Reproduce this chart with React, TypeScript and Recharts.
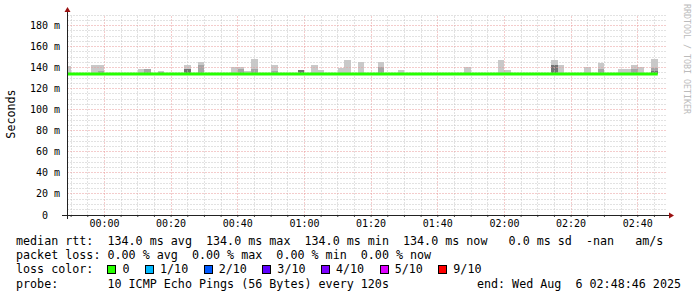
import { ComposedChart, Bar, Line, XAxis, YAxis, ReferenceLine } from "recharts";

const MONO = "'DejaVu Sans Mono', monospace";

// median rtt was flat the whole window
const MEDIAN_RTT = 134;
const END_MIN = 168.77; // 02:48:46, minutes after midnight
const SPAN_MIN = 180;
const STEP_MIN = 2; // one ping round every 120s

// smoke per 2 minute slot (slot start in minutes after 00:00, values in ms)
const SLOT_START = [-12, -4, -2, 10, 12, 16, 24, 28, 38, 40, 42, 44, 50, 58, 62, 64, 70, 72, 76, 82, 88, 108, 118, 120, 134, 136, 144, 148, 154, 156, 158, 160, 164];
const LIGHT_TOP = [141.9, 142.9, 142.9, 138.4, 139, 137.1, 142.9, 145, 141, 141, 136.5, 147.9, 142.2, 138.1, 142.9, 137.5, 139.5, 147, 145, 145, 137.5, 141, 147, 137.5, 147, 142.9, 140.3, 144.1, 138.4, 138.4, 142.9, 140.3, 147.9];
const MID_TOP = [null, null, 136.5, null, 139, 135.9, null, 142.2, null, 138.7, null, 138.7, 136.5, null, null, null, null, null, null, 140.6, null, null, null, null, null, null, null, 138.4, null, null, 138.4, null, 139.5];
const DARK_TOP = [null, null, null, null, null, null, 138.4, null, null, null, null, null, null, 137.8, null, null, null, null, null, null, null, null, null, null, 142.2, null, null, null, null, null, null, null, 136.5];

const MEDIAN_FROM = -12;
const MEDIAN_TO = 166;

const X_TICKS = [0, 20, 40, 60, 80, 100, 120, 140, 160];
const X_LABELS = ["00:00", "00:20", "00:40", "01:00", "01:20", "01:40", "02:00", "02:20", "02:40"];
const Y_TICKS = [0, 20, 40, 60, 80, 100, 120, 140, 160, 180];

const LOSS_LABELS = ["0", "1/10", "2/10", "3/10", "4/10", "5/10", "9/10"];
const LOSS_COLORS = ["#26ff00", "#00b8ff", "#0059ff", "#5e00ff", "#7e00ff", "#dd00ff", "#ff0000"];

const smokeData = SLOT_START.map((s, i) => {
  const d = DARK_TOP[i] ?? MEDIAN_RTT;
  const m = MID_TOP[i] ?? d;
  return {
    t: s + STEP_MIN / 2,
    base: MEDIAN_RTT,
    dark: d - MEDIAN_RTT,
    mid: m - d,
    light: Math.max(0, LIGHT_TOP[i] - m),
  };
});

const medianData = [
  { t: MEDIAN_FROM, v: MEDIAN_RTT },
  { t: MEDIAN_TO, v: MEDIAN_RTT },
];

// grid every 5 min / 5 ms, major every 20
const minorX: number[] = [];
for (let v = -10; v <= 165; v += 5) minorX.push(v);
const minorY: number[] = [];
for (let v = 5; v <= 190; v += 5) minorY.push(v);

const PLOT_W = 600;
const SLOT_PX = (PLOT_W / SPAN_MIN) * STEP_MIN;

// full-slot wide block centred on the library's bar position
const SmokeBlock = (p: any) => {
  if (!p.height) return null;
  const cx = p.x + p.width / 2;
  return <rect x={cx - SLOT_PX / 2} y={p.y} width={SLOT_PX} height={p.height} fill={p.fill} shapeRendering="crispEdges" />;
};

// rrdtool style dotted grid line snapped to the pixel grid
const snap = (v: number) => Math.round(v - 0.5) + 0.5;
const GridLine = (p: any) => (
  <line
    x1={snap(p.x1)}
    y1={snap(p.y1)}
    x2={snap(p.x2)}
    y2={snap(p.y2)}
    stroke={p.stroke}
    strokeWidth={1}
    strokeDasharray="1 2"
  />
);

const YTick = (props: any) => {
  const { y, payload } = props;
  const v = payload.value;
  return (
    <text x={v === 0 ? 48 : 60} y={y} dy="0.355em" textAnchor="end" fontSize={10} fontFamily={MONO} fill="#000">
      {v === 0 ? "0" : `${v} m`}
    </text>
  );
};

const textLine = (top: number): React.CSSProperties => ({
  position: "absolute",
  left: 16,
  top,
  fontFamily: MONO,
  fontSize: 11.7,
  lineHeight: "14px",
  whiteSpace: "pre",
  color: "#000",
});

export default function App() {
  return (
    <div style={{ position: "absolute", left: 0, top: 0, width: 697, height: 297, background: "#fff", overflow: "hidden" }}>
      <ComposedChart width={697} height={297} data={smokeData} margin={{ top: 15, right: 30, bottom: 52, left: 0 }} barGap={0} barCategoryGap={0}>
        <XAxis
          dataKey="t"
          type="number"
          domain={[END_MIN - SPAN_MIN, END_MIN]}
          allowDataOverflow
          ticks={minorX}
          interval={0}
          tickFormatter={(v) => {
            const i = X_TICKS.indexOf(v);
            return i >= 0 ? X_LABELS[i] : "";
          }}
          tickSize={2}
          tickMargin={3}
          axisLine={false}
          tickLine={{ stroke: "#444" }}
          height={30}
          tick={{ fontSize: 10, fill: "#000", fontFamily: MONO }}
        />
        <YAxis
          type="number"
          domain={[0, 190]}
          allowDataOverflow
          ticks={Y_TICKS}
          interval={0}
          width={67}
          axisLine={false}
          tickLine={false}
          tick={YTick}
        />
        {minorX.map((v) => (
          <ReferenceLine key={`x${v}`} x={v} stroke={v % 20 === 0 ? "#e89898" : "#c4c4c4"} shape={GridLine} />
        ))}
        {minorY.map((v) => (
          <ReferenceLine key={`y${v}`} y={v} stroke={v % 20 === 0 ? "#e89898" : "#c4c4c4"} shape={GridLine} />
        ))}
        <Bar dataKey="base" stackId="s" fill="transparent" isAnimationActive={false} />
        <Bar dataKey="dark" stackId="s" fill="#747474" shape={SmokeBlock} isAnimationActive={false} />
        <Bar dataKey="mid" stackId="s" fill="#a6a6a6" shape={SmokeBlock} isAnimationActive={false} />
        <Bar dataKey="light" stackId="s" fill="#c9c9c9" shape={SmokeBlock} isAnimationActive={false} />
        <Line
          data={medianData}
          dataKey="v"
          type="linear"
          stroke="#26ff00"
          strokeWidth={3}
          dot={false}
          activeDot={false}
          isAnimationActive={false}
        />
      </ComposedChart>

      <svg width={697} height={297} style={{ position: "absolute", left: 0, top: 0, pointerEvents: "none" }}>
        <line x1={62} y1={215.5} x2={669} y2={215.5} stroke="#222" />
        <polygon points="669,212.5 674,215.5 669,218.5" fill="#9a1010" />
        <line x1={67.5} y1={219} x2={67.5} y2={12} stroke="#222" />
        <polygon points="64.5,12 67.5,7 70.5,12" fill="#9a1010" />
        <text x={11} y={114} transform="rotate(-90 11 114)" textAnchor="middle" dominantBaseline="central" fontFamily={MONO} fontSize={11.7} fill="#000">
          Seconds
        </text>
        <text x={687} y={4} transform="rotate(90 687 4)" dominantBaseline="central" fontFamily={MONO} fontSize={8.3} fill="#bbb">
          RRDTOOL / TOBI OETIKER
        </text>
      </svg>

      <div style={textLine(234)}>median rtt:  134.0 ms avg  134.0 ms max  134.0 ms min  134.0 ms now   0.0 ms sd  -nan   am/s</div>
      <div style={textLine(248)}>packet loss: 0.00 % avg  0.00 % max  0.00 % min  0.00 % now</div>
      <div style={{ ...textLine(262), display: "flex", alignItems: "center" }}>
        <span>loss color:  </span>
        {LOSS_LABELS.map((l, i) => (
          <span key={l} style={{ display: "flex", alignItems: "center", marginRight: 15.5 }}>
            <span style={{ display: "inline-block", width: 7, height: 7, background: LOSS_COLORS[i], border: "1px solid #000", marginRight: 6 }} />
            <span>{l}</span>
          </span>
        ))}
      </div>
      <div style={textLine(277)}>probe:       10 ICMP Echo Pings (56 Bytes) every 120s</div>
      <div style={{ ...textLine(277), left: "auto", right: 16 }}>end: Wed Aug  6 02:48:46 2025</div>
    </div>
  );
}
